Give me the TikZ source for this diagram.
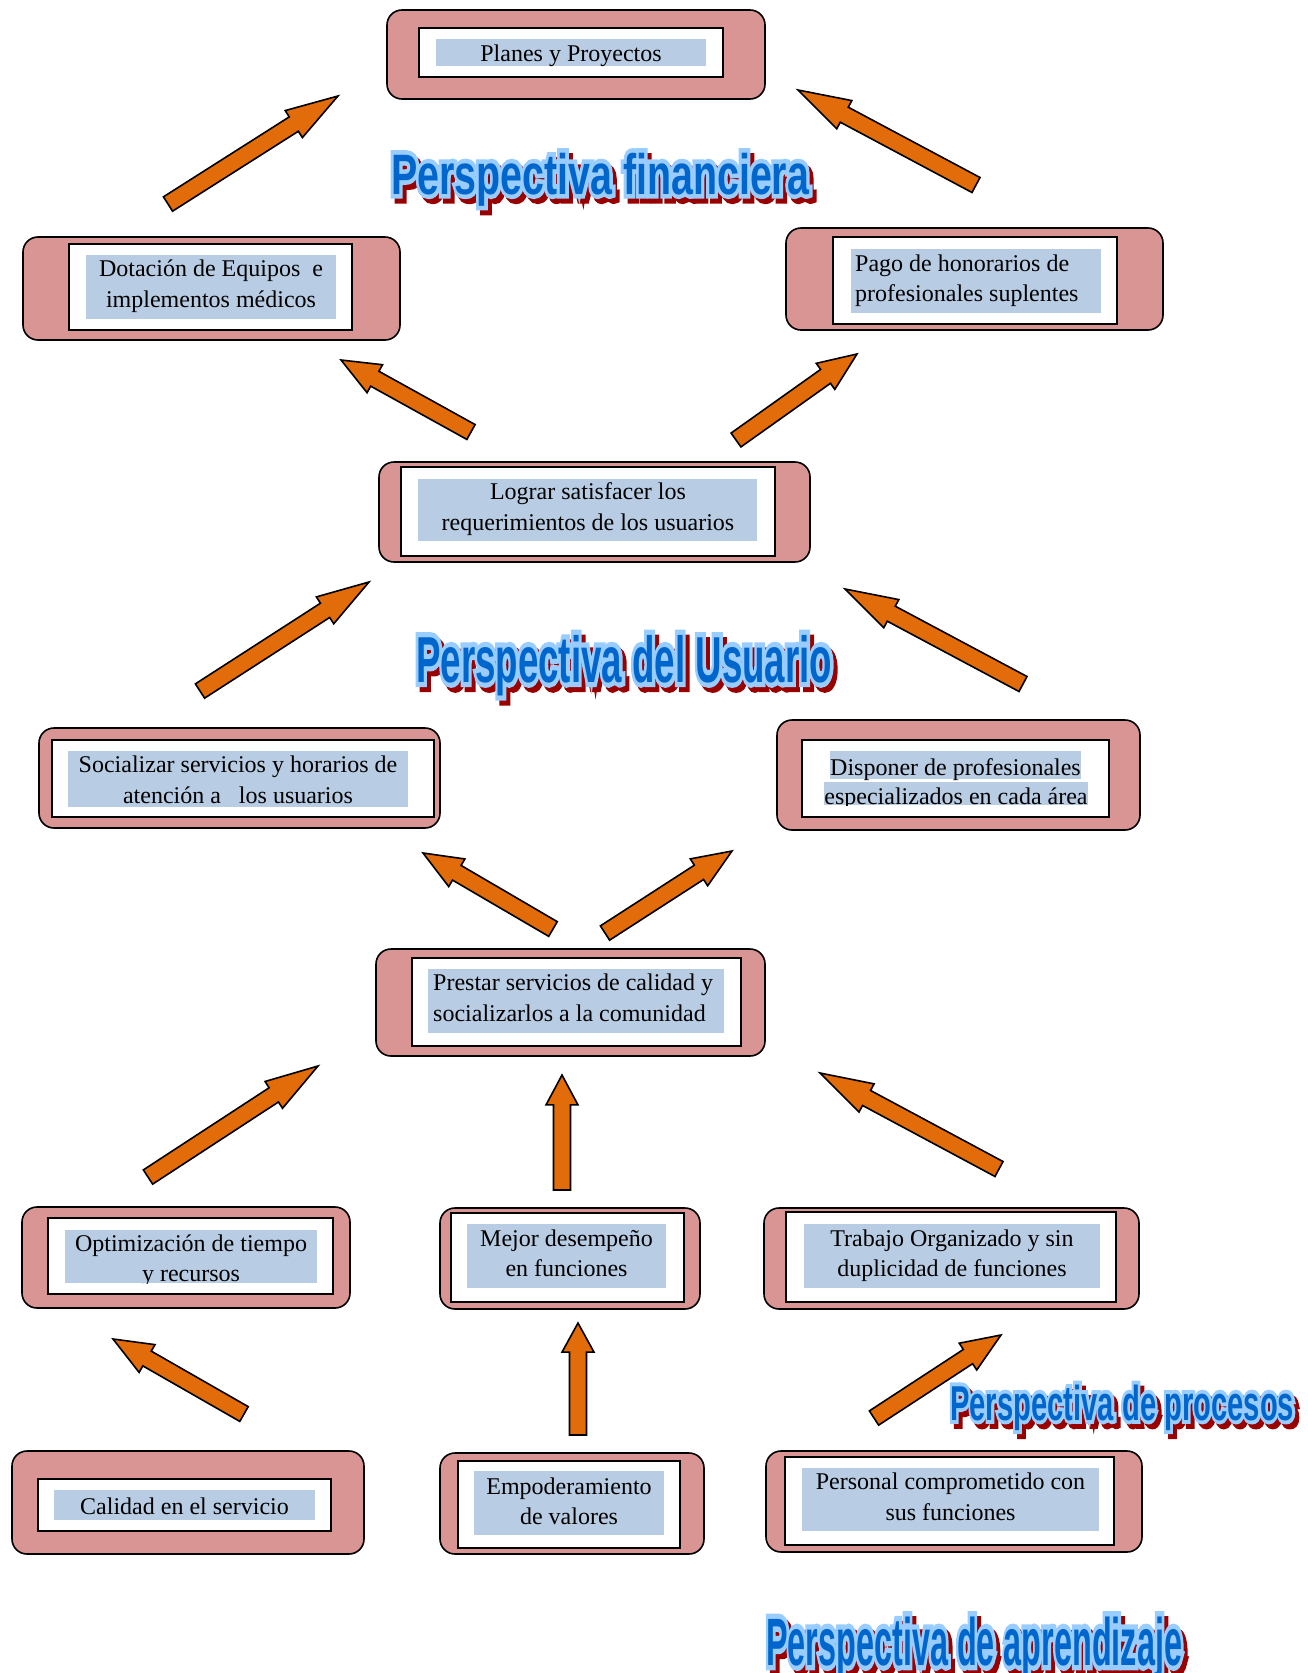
\documentclass[tikz,border=0pt]{standalone}
\usepackage{fontspec}
\usepackage{graphicx}
\setmainfont{Liberation Serif}
\newfontfamily\titlefont{Liberation Sans}[UprightFont=* Bold]
\newfontfamily\titlefontB{Liberation Sans}[UprightFont=* Bold, FakeBold=16]
\usetikzlibrary{calc}
\definecolor{pinkfill}{HTML}{D99594}
\definecolor{bluehl}{HTML}{B8CCE4}
\definecolor{arroworange}{HTML}{E36C0A}
\definecolor{tblue}{HTML}{0066CC}
\definecolor{toutl}{HTML}{99CCFF}
\definecolor{tshadow}{HTML}{990000}

\newsavebox\ttlbox
\newsavebox\ttlboxB
\newcommand\ptitle[3]{% #1 target width, #2 font size, #3 text
  \setbox\ttlbox=\hbox{\fontsize{#2}{#2}\titlefont #3}%
  \pgfmathsetmacro\ttlsx{#1/(\the\wd\ttlbox)}%
  \setbox\ttlbox=\hbox{\scalebox{\ttlsx}[1]{\fontsize{#2}{#2}\titlefont #3}}%
  \setbox\ttlboxB=\hbox{\scalebox{\ttlsx}[1]{\fontsize{#2}{#2}\titlefontB #3}}%
  \rlap{\hspace*{4pt}\raisebox{-5pt}{\textcolor{tshadow}{\copy\ttlboxB}}}%
  \rlap{\textcolor{toutl}{\copy\ttlboxB}}%
  \textcolor{tblue}{\copy\ttlbox}}

\newcommand\blockarrow[2]{%
  \coordinate (#1hb) at ($(#2)!0.26!(#1)$);
  \draw[barrow] ($(#1)!8.5pt!-90:(#2)$) -- ($(#1hb)!8.5pt!-90:(#2)$) -- ($(#1hb)!16pt!-90:(#2)$) -- (#2)
    -- ($(#1hb)!16pt!90:(#2)$) -- ($(#1hb)!8.5pt!90:(#2)$) -- ($(#1)!8.5pt!90:(#2)$) -- cycle;}

\tikzset{
  outerbox/.style={draw=black, line width=1.6, fill=pinkfill, rounded corners=15, inner sep=0},
  innerbox/.style={draw=black, line width=2.2, fill=white, inner sep=0},
  bluebox/.style={fill=bluehl, inner sep=0},
  txt/.style={inner sep=0, align=center, font=\fontsize{24}{30.5}\selectfont},
  txtl/.style={inner sep=0, align=left, font=\fontsize{24}{30.5}\selectfont},
  barrow/.style={draw=black, line width=1.6, fill=arroworange, line join=miter},
  ttl/.style={inner sep=0, anchor=base west}
}

\begin{document}
\begin{tikzpicture}[x=1pt, y=-1pt]
\useasboundingbox (0,0) rectangle (1307,1673);

% 1 Planes y Proyectos
\node[outerbox, minimum width=378, minimum height=89] (o1) at (576,54.5) {};
\node[innerbox, minimum width=304, minimum height=49] (i1) at (571,52.5) {};
\node[bluebox, minimum width=270, minimum height=27] (b1) at (571,52.5) {};
\node[txt] (t1) at (571,55) {\strut Planes y Proyectos};

% 2 Dotacion
\node[outerbox, minimum width=377, minimum height=103] (o2) at (211.5,288.5) {};
\node[innerbox, minimum width=283, minimum height=86] (i2) at (210.5,287) {};
\node[bluebox, minimum width=250, minimum height=64] (b2) at (211,287) {};
\node[txt] (t2) at (211,286) {\strut Dotación de Equipos\ \ e\\\strut implementos médicos};

% 3 Pago
\node[outerbox, minimum width=377, minimum height=102] (o3) at (974.5,279) {};
\node[innerbox, minimum width=284, minimum height=87] (i3) at (975,280.5) {};
\node[bluebox, minimum width=250, minimum height=64] (b3) at (976,281) {};
\node[txtl, anchor=west] (t3) at (855,280.5) {\strut Pago de honorarios de\\\strut profesionales suplentes};

% 4 Lograr
\node[outerbox, minimum width=431, minimum height=100] (o4) at (594.5,512) {};
\node[innerbox, minimum width=374, minimum height=89] (i4) at (588,511.5) {};
\node[bluebox, minimum width=339, minimum height=62] (b4) at (587.5,510) {};
\node[txt] (t4) at (588,509) {\strut Lograr satisfacer los\\\strut requerimientos de los usuarios};

% 5 Socializar
\node[outerbox, minimum width=401, minimum height=100] (o5) at (239.5,778) {};
\node[innerbox, minimum width=382, minimum height=77] (i5) at (243,778.5) {};
\node[bluebox, minimum width=340, minimum height=56] (b5) at (238,779) {};
\node[txt] (t5) at (238,782) {\strut Socializar servicios y horarios de\\\strut atención a\ \ \ los usuarios};

% 6 Disponer
\node[outerbox, minimum width=363, minimum height=110] (o6) at (958.5,775) {};
\node[innerbox, minimum width=307, minimum height=77] (i6) at (955.5,778.5) {};
\node[bluebox, minimum width=251, minimum height=28] (h6a) at (955.5,765) {};
\node[bluebox, minimum width=264, minimum height=23] (h6b) at (956,793.5) {};
\node[txt] (t6a) at (955.5,769) {\strut Disponer de profesionales};
\begin{scope}
\clip (h6b.south west) rectangle (h6b.north east);
\node[txt] (t6b) at (956,798) {\strut especializados en cada área};
\end{scope}

% 7 Prestar
\node[outerbox, minimum width=389, minimum height=107] (o7) at (570.5,1002.5) {};
\node[innerbox, minimum width=329, minimum height=88] (i7) at (576.5,1002) {};
\node[bluebox, minimum width=296, minimum height=64] (b7) at (576,1001) {};
\node[txtl, anchor=west] (t7) at (433,1000) {\strut Prestar servicios de calidad y\\\strut socializarlos a la comunidad};

% 8 Optimizacion
\node[outerbox, minimum width=328, minimum height=101] (o8) at (186,1257.5) {};
\node[innerbox, minimum width=285, minimum height=76] (i8) at (190.5,1256) {};
\node[bluebox, minimum width=252, minimum height=53] (b8) at (191,1256.5) {};
\begin{scope}
\clip (b8.south west) rectangle (b8.north east);
\node[txt] (t8) at (191,1260.5) {\strut Optimización de tiempo\\\strut y recursos};
\end{scope}

% 9 Mejor desempeno
\node[outerbox, minimum width=260, minimum height=101] (o9) at (570,1258.5) {};
\node[innerbox, minimum width=233, minimum height=89] (i9) at (567.5,1257.5) {};
\node[bluebox, minimum width=199, minimum height=64] (b9) at (566.5,1256) {};
\node[txt] (t9) at (566.5,1255.5) {\strut Mejor desempeño\\\strut en funciones};

% 10 Trabajo
\node[outerbox, minimum width=375, minimum height=101] (o10) at (951.5,1258.5) {};
\node[innerbox, minimum width=330, minimum height=90] (i10) at (951,1257) {};
\node[bluebox, minimum width=296, minimum height=64] (b10) at (952,1256) {};
\node[txt] (t10) at (952,1255.5) {\strut Trabajo Organizado y sin\\\strut duplicidad de funciones};

% 11 Calidad
\node[outerbox, minimum width=352, minimum height=103] (o11) at (188,1502.5) {};
\node[innerbox, minimum width=293, minimum height=52] (i11) at (184.5,1505) {};
\node[bluebox, minimum width=261, minimum height=30] (b11) at (184.5,1505) {};
\node[txt] (t11) at (184.5,1508) {\strut Calidad en el servicio};

% 12 Empoderamiento
\node[outerbox, minimum width=264, minimum height=101] (o12) at (572,1503.5) {};
\node[innerbox, minimum width=222, minimum height=87] (i12) at (569,1504.5) {};
\node[bluebox, minimum width=190, minimum height=64] (b12) at (569,1503) {};
\node[txt] (t12) at (569,1503.5) {\strut Empoderamiento\\\strut de valores};

% 13 Personal
\node[outerbox, minimum width=376, minimum height=101] (o13) at (954,1501.5) {};
\node[innerbox, minimum width=329, minimum height=88] (i13) at (949.5,1501) {};
\node[bluebox, minimum width=297, minimum height=63] (b13) at (950.5,1499.5) {};
\node[txt] (t13) at (950.5,1499) {\strut Personal comprometido con\\\strut sus funciones};

% arrows
\coordinate (a1t) at (168,204);   \coordinate (a1h) at (338,96);
\coordinate (a2t) at (976,185);   \coordinate (a2h) at (798,90);
\coordinate (a3t) at (471,432);   \coordinate (a3h) at (341,360);
\coordinate (a4t) at (736,440);   \coordinate (a4h) at (857,354);
\coordinate (a5t) at (200,691);   \coordinate (a5h) at (369,582);
\coordinate (a6t) at (1023,684);  \coordinate (a6h) at (845,589);
\coordinate (a7t) at (553,929);   \coordinate (a7h) at (423,853);
\coordinate (a8t) at (605,933);   \coordinate (a8h) at (732,851);
\coordinate (a9t) at (148,1177);  \coordinate (a9h) at (318,1066);
\coordinate (a10t) at (562,1190); \coordinate (a10h) at (562,1075);
\coordinate (a11t) at (999,1169); \coordinate (a11h) at (820,1073);
\coordinate (a12t) at (244,1414); \coordinate (a12h) at (113,1339);
\coordinate (a13t) at (578,1435); \coordinate (a13h) at (578,1323);
\coordinate (a14t) at (874,1418); \coordinate (a14h) at (1001,1335);
\blockarrow{a1t}{a1h}
\blockarrow{a2t}{a2h}
\blockarrow{a3t}{a3h}
\blockarrow{a4t}{a4h}
\blockarrow{a5t}{a5h}
\blockarrow{a6t}{a6h}
\blockarrow{a7t}{a7h}
\blockarrow{a8t}{a8h}
\blockarrow{a9t}{a9h}
\blockarrow{a10t}{a10h}
\blockarrow{a11t}{a11h}
\blockarrow{a12t}{a12h}
\blockarrow{a13t}{a13h}
\blockarrow{a14t}{a14h}

% titles
\node[ttl] (ttl1) at (391,194) {\ptitle{418}{57}{Perspectiva financiera}};
\node[ttl] (ttl2) at (416,682) {\ptitle{416}{65}{Perspectiva del Usuario}};
\node[ttl] (ttl3) at (950,1420) {\ptitle{344}{49}{Perspectiva de procesos}};
\node[ttl] (ttl4) at (766,1665) {\ptitle{416}{67}{Perspectiva de aprendizaje}};
\end{tikzpicture}
\end{document}
